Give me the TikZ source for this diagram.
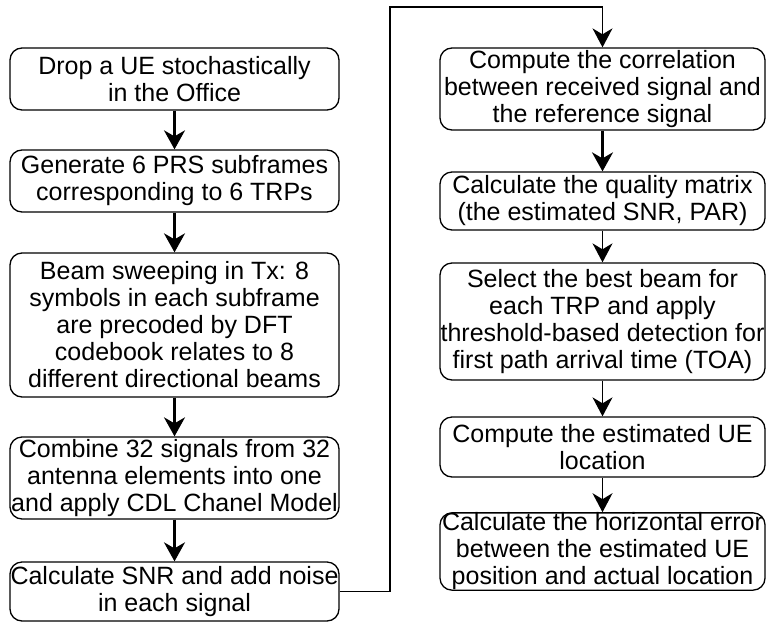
\documentclass[tikz,border=0pt]{standalone}
\usepackage{fontspec}
\setmainfont{Liberation Sans}
\usetikzlibrary{arrows.meta}
\begin{document}
\begin{tikzpicture}[x=1pt,y=-1pt,
  box/.style={draw, line width=1.3pt, rounded corners=12pt, inner sep=0pt, align=center,
    font=\fontsize{25}{27}\selectfont},
  lbox/.style={box, minimum width=329pt},
  rbox/.style={box, minimum width=325pt},
  thickarrow/.style={line width=2.4pt, -{Stealth[length=19pt,width=21pt,inset=6pt]}},
  thinarrow/.style={line width=1.4pt, -{Stealth[length=19pt,width=20pt,inset=6pt]}}]
\useasboundingbox (0,0) rectangle (767,624);
% left column
\node[lbox, minimum height=62pt] (L1) at (174.5,79) {Drop a UE stochastically\\in the Office};
\node[lbox, minimum height=62pt] (L2) at (174.5,181) {Generate 6 PRS subframes\\corresponding to 6 TRPs};
\node[lbox, minimum height=144pt] (L3) at (174.5,325) {Beam sweeping in Tx: 8\\symbols in each subframe\\are precoded by DFT\\codebook relates to 8\\different directional beams};
\node[lbox, minimum height=82pt] (L4) at (174.5,478) {Combine 32 signals from 32\\antenna elements into one\\and apply CDL Chanel Model};
\node[lbox, minimum height=59pt] (L5) at (174.5,591.5) {Calculate SNR and add noise\\in each signal};
% right column
\node[rbox, minimum height=82pt] (R1) at (602.5,89) {Compute the correlation\\between received signal and\\the reference signal};
\node[rbox, minimum height=58pt] (R2) at (602.5,201) {Calculate the quality matrix\\(the estimated SNR, PAR)};
\node[rbox, minimum height=117pt] (R3) at (602.5,321.5) {Select the best beam for\\each TRP and apply\\threshold-based detection for\\first path arrival time (TOA)};
\node[rbox, minimum height=60pt] (R4) at (602.5,447) {Compute the estimated UE\\location};
\node[rbox, minimum height=63pt] (R5) at (602.5,551.5) {Calculate the horizontal error\\between the estimated UE\\position and actual location};
% connectors
\draw[thickarrow] (L1) -- (L2);
\draw[thickarrow] (L2) -- (L3);
\draw[thickarrow] (L3) -- (L4);
\draw[thickarrow] (L4) -- (L5);
\coordinate (c1) at (390,7);
\draw[thinarrow] (L5.east) -| (c1) -| (R1.north);
\draw[thickarrow] (R1) -- (R2);
\draw[thinarrow] (R2) -- (R3);
\draw[thinarrow] (R3) -- (R4);
\draw[thinarrow] (R4) -- (R5);
\end{tikzpicture}
\end{document}
